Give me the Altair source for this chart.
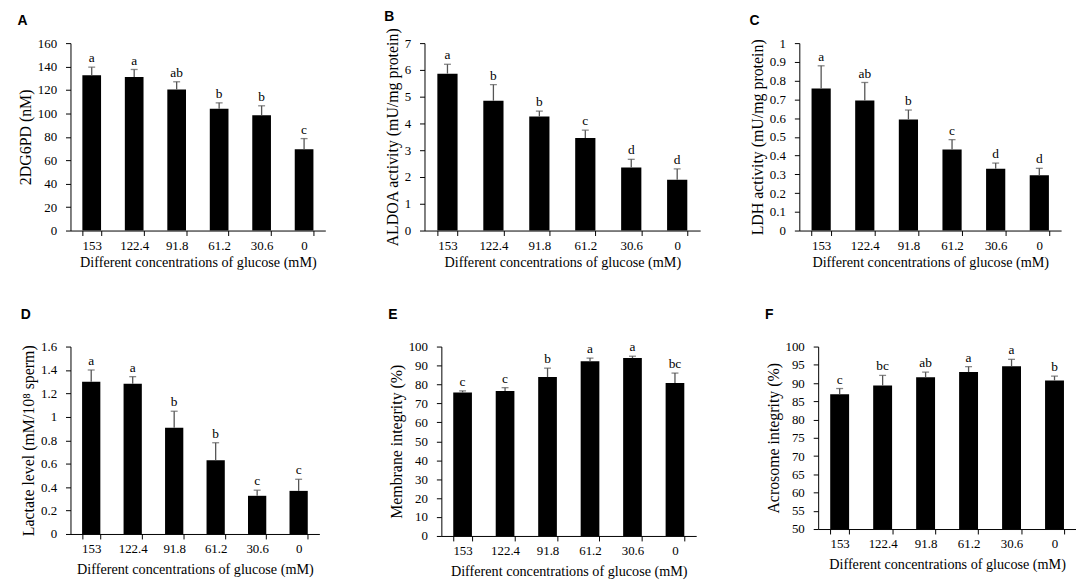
import altair as alt
import pandas as pd

conc = ["153", "122.4", "91.8", "61.2", "30.6", "0"]
xtitle = "Different concentrations of glucose (mM)"

a_mean = [132.5, 131, 120.5, 104, 98.5, 69.5]
a_err = [7, 6.5, 6.5, 5, 8, 9]
a_sig = ["a", "a", "ab", "b", "b", "c"]

b_mean = [5.86, 4.85, 4.26, 3.46, 2.35, 1.9]
b_err = [0.35, 0.6, 0.2, 0.29, 0.31, 0.4]
b_sig = ["a", "b", "b", "c", "d", "d"]

c_mean = [0.758, 0.694, 0.593, 0.432, 0.33, 0.295]
c_err = [0.121, 0.096, 0.05, 0.053, 0.03, 0.037]
c_sig = ["a", "ab", "b", "c", "d", "d"]

d_mean = [1.3, 1.283, 0.906, 0.629, 0.326, 0.368]
d_err = [0.1, 0.06, 0.142, 0.15, 0.048, 0.099]
d_sig = ["a", "a", "b", "b", "c", "c"]

e_mean = [75.7, 76.6, 83.9, 92.3, 93.9, 80.8]
e_err = [0.9, 1.7, 4.7, 1.6, 1.0, 5.2]
e_sig = ["c", "c", "b", "a", "a", "bc"]

f_mean = [86.9, 89.3, 91.6, 93.0, 94.6, 90.7]
f_err = [1.6, 2.8, 1.4, 1.5, 1.9, 1.2]
f_sig = ["c", "bc", "ab", "a", "a", "b"]

a_ticks = [0, 20, 40, 60, 80, 100, 120, 140, 160]
b_ticks = [0, 1, 2, 3, 4, 5, 6, 7]
c_ticks = [0, 0.1, 0.2, 0.3, 0.4, 0.5, 0.6, 0.7, 0.8, 0.9, 1]
d_ticks = [0, 0.2, 0.4, 0.6, 0.8, 1, 1.2, 1.4, 1.6]
e_ticks = [0, 10, 20, 30, 40, 50, 60, 70, 80, 90, 100]
f_ticks = [50, 55, 60, 65, 70, 75, 80, 85, 90, 95, 100]

SERIF = "Liberation Serif"


def panel(label, mean, err, sig, ytitle, ticks, width, height, toff, tdy=0, xtp=3):
    df = pd.DataFrame({
        "conc": conc,
        "mean": mean,
        "top": [m + e for m, e in zip(mean, err)],
        "sig": sig,
        "base": [ticks[0]] * len(conc),
    })
    base = alt.Chart(df)
    x = alt.X(
        "conc:N",
        sort=conc,
        scale=alt.Scale(paddingInner=0.56, paddingOuter=0.28, align=0.5),
        axis=alt.Axis(
            title=xtitle, labelAngle=0, tickBand="extent", labelPadding=4,
            titlePadding=xtp, tickSize=5, titleFontSize=14.3,
        ),
    )
    yscale = alt.Scale(domain=[ticks[0], ticks[-1]], nice=False, zero=False)
    yaxis = alt.Axis(title=ytitle, values=ticks, format=".2~f", grid=False,
                     labelOverlap=False, tickSize=5, labelPadding=9,
                     titlePadding=4, titleFontSize=16)

    def Y(field):
        return alt.Y(field, scale=yscale, axis=yaxis)

    bars = base.mark_bar(color="black").encode(x=x, y=Y("mean:Q"), y2="base:Q")
    rule = base.mark_rule(color="#555555", strokeWidth=1.3).encode(
        x=x, y=Y("mean:Q"), y2="top:Q"
    )
    cap = base.mark_tick(color="#555555", size=7, thickness=1.3, orient="horizontal").encode(
        x=x, y=Y("top:Q")
    )
    txt = base.mark_text(font=SERIF, fontSize=13.5, baseline="bottom", dy=-2,
                         fill="black").encode(x=x, y=Y("top:Q"), text="sig:N")
    return alt.layer(bars, rule, cap, txt).properties(
        width=width,
        height=height,
        title=alt.TitleParams(
            label, anchor="start", frame="bounds", font="Liberation Sans",
            fontSize=14, fontWeight="bold", offset=toff, dy=tdy, color="black",
        ),
    )


pA = panel("A", a_mean, a_err, a_sig, "2DG6PD (nM)", a_ticks, 257, 189, 3, -6)
pB = panel("B", b_mean, b_err, b_sig, "ALDOA activity (mU/mg protein)", b_ticks, 278, 189, 3)
pC = panel("C", c_mean, c_err, c_sig, "LDH activity (mU/mg protein)", c_ticks, 264, 189, 3, -6)
pD = panel("D", d_mean, d_err, d_sig, "Lactate level (mM/10\u2078 sperm)", d_ticks, 251, 189, 19, 0, 7)
pE = panel("E", e_mean, e_err, e_sig, "Membrane integrity (%)", e_ticks, 257, 191, 19, 0, 7)
pF = panel("F", f_mean, f_err, f_sig, "Acrosome integrity (%)", f_ticks, 260, 184, 19, 0, 7)

row1 = alt.hconcat(pA, pB, pC, spacing=100, bounds="flush")
row2 = alt.hconcat(pD, pE, pF, spacing=123, bounds="flush")

chart = alt.vconcat(row1, row2, spacing=37).configure(
    padding={"left": 9, "top": 0, "right": 0, "bottom": 0},
    background="white",
).configure_view(stroke=None).configure_axis(
    domainColor="black", tickColor="black", labelColor="black", titleColor="black",
    labelFont=SERIF, titleFont=SERIF, labelFontSize=13, titleFontSize=13,
    titleFontWeight="normal", domainWidth=1, tickWidth=1,
)

chart.save("out.html", embed_options={"renderer": "svg", "actions": False})
